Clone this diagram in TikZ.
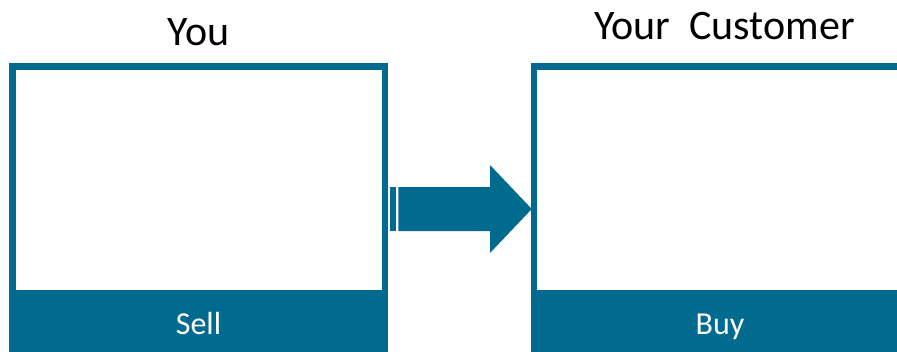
\documentclass[tikz,border=0pt]{standalone}
\usepackage{fontspec}
\setmainfont{Carlito}
\definecolor{teal}{RGB}{0,106,143}
\tikzset{
  panel/.style={draw=teal, line width=6.5pt, fill=white, inner sep=0pt, outer sep=0pt, anchor=north west},
  band/.style={fill=teal, inner sep=0pt, outer sep=0pt, anchor=north west},
  title/.style={font=\fontsize{42}{50}\selectfont, text=black, anchor=base, inner sep=0pt},
  bandlabel/.style={font=\fontsize{32}{38}\selectfont, text=white, anchor=base, inner sep=0pt},
  bigarrow/.style={fill=teal}
}
\begin{document}
\begin{tikzpicture}[x=1pt,y=-1pt]
\useasboundingbox (0,0) rectangle (897,351);
\fill[white] (0,0) rectangle (897,351);
% left panel
\node[panel, minimum width=372.5pt, minimum height=300pt] (youbox) at (12.25,66.25) {};
\node[band, minimum width=379pt, minimum height=70pt] (sellband) at (9,290) {};
% right panel
\node[panel, minimum width=372.5pt, minimum height=300pt] (custbox) at (533.75,66.25) {};
\node[band, minimum width=379pt, minimum height=70pt] (buyband) at (530.5,290) {};
% titles
\node[title] (you) at (198.5,45.7) {You};
\node[title] (cust) at (724.5,39.3) {Your\ \ Customer};
\node[bandlabel] (sell) at (198.5,334) {Sell};
\node[bandlabel] (buy) at (720,334) {Buy};
% arrow
\coordinate (astart) at (398.3,209);
\coordinate (atip) at (531.8,209);
\fill[bigarrow] (390,187) rectangle (395.7,231);
\fill[bigarrow] (astart) ++(0,-22) -- (490,187) -- (490,165) -- (atip) -- (490,253) -- (490,231) -- (398.3,231) -- cycle;
\end{tikzpicture}
\end{document}
